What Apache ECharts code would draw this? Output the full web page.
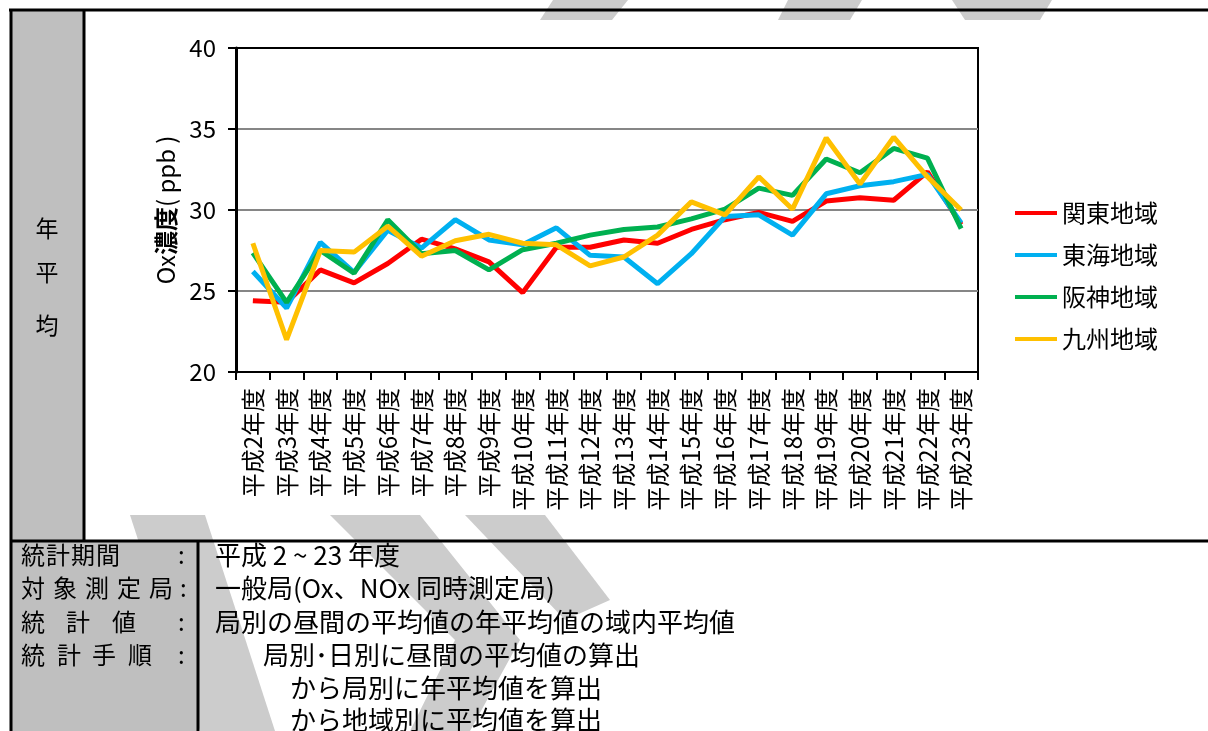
<!DOCTYPE html>
<html>
    <head>
        <meta charset="utf-8">
        <title>Ox濃度 年平均</title>
        <script src="https://cdn.jsdelivr.net/npm/echarts@6/dist/echarts.min.js"></script>
        <style>
            html, body { margin: 0; padding: 0; background: #fff; }
            #chart1 { width: 1208px; height: 731px; }
        </style>
    </head>
    <body>
        <div id="chart1"></div>
    </body>

    <script type="text/javascript">
        // 年度（カテゴリ）
        var years = ['平成2年度', '平成3年度', '平成4年度', '平成5年度', '平成6年度', '平成7年度',
            '平成8年度', '平成9年度', '平成10年度', '平成11年度', '平成12年度', '平成13年度',
            '平成14年度', '平成15年度', '平成16年度', '平成17年度', '平成18年度', '平成19年度',
            '平成20年度', '平成21年度', '平成22年度', '平成23年度'];

        // 地域別 Ox濃度 (ppb)
        var kanto   = [24.4, 24.3, 26.3, 25.5, 26.7, 28.2, 27.6, 26.8, 24.9, 27.7, 27.7, 28.15,
                       27.95, 28.8, 29.4, 29.85, 29.3, 30.55, 30.75, 30.6, 32.35, 29.1];
        var tokai   = [26.2, 23.95, 28.0, 26.15, 28.75, 27.65, 29.4, 28.15, 27.85, 28.9, 27.2, 27.1,
                       25.45, 27.3, 29.6, 29.7, 28.45, 31.0, 31.5, 31.75, 32.2, 29.2];
        var hanshin = [27.35, 24.3, 27.5, 26.1, 29.4, 27.3, 27.5, 26.3, 27.55, 27.95, 28.45, 28.8,
                       28.95, 29.45, 30.05, 31.35, 30.9, 33.15, 32.3, 33.8, 33.2, 28.85];
        var kyushu  = [27.95, 22.0, 27.5, 27.4, 29.0, 27.15, 28.1, 28.5, 27.95, 27.85, 26.55, 27.1,
                       28.45, 30.5, 29.7, 32.05, 30.05, 34.45, 31.6, 34.5, 32.05, 30.0];

        var regions = ['関東地域', '東海地域', '阪神地域', '九州地域'];
        var colors = ['#ff0000', '#00b0f0', '#00b050', '#ffc000'];

        // 下段の説明
        var infoLabels = [
            [['統', 21], ['計', 46], ['期', 71], ['間', 96], [':', 178]],
            [['対', 21], ['象', 53], ['測', 85], ['定', 117], ['局', 149], [':', 180]],
            [['統', 21], ['計', 66], ['値', 112], [':', 178]],
            [['統', 21], ['計', 57], ['手', 92], ['順', 128], [':', 178]]
        ];
        var infoTexts = [
            ['平成 2 ~ 23 年度', 215],
            ['一般局(Ox、NOx 同時測定局)', 215],
            ['局別の昼間の平均値の年平均値の域内平均値', 215],
            ['局別･日別に昼間の平均値の算出', 263],
            ['から局別に年平均値を算出', 290],
            ['から地域別に平均値を算出', 290]
        ];
        var rowY = [555, 588, 622, 655, 688, 720];

        var FONT = '"Liberation Sans Narrow", "Noto Sans CJK JP", sans-serif';
        var JP = '"Noto Sans CJK JP", sans-serif';

        var myChart1 = echarts.init(document.getElementById('chart1'));

        var g = [];
        // 透かしの帯
        var stripes = [
            [[553, 0], [628, 0], [612, 20], [540, 20]],
            [[788, 0], [862, 0], [850, 20], [778, 20]],
            [[952, 0], [1052, 0], [1040, 20], [965, 20]],
            [[130, 515], [205, 515], [275, 731], [200, 731]],
            [[330, 515], [420, 515], [520, 640], [470, 731], [410, 731], [455, 640]],
            [[465, 515], [545, 515], [610, 600], [565, 620]]
        ];
        stripes.forEach(function (p) {
            g.push({ type: 'polygon', z: -10, shape: { points: p }, style: { fill: '#cccccc' } });
        });
        // 表の枠
        g.push({ type: 'rect', z: -5, shape: { x: 10, y: 9, width: 74, height: 532 }, style: { fill: '#bfbfbf' } });
        g.push({ type: 'rect', z: -5, shape: { x: 10, y: 541, width: 188, height: 190 }, style: { fill: '#bfbfbf' } });
        var lines = [
            [9, 10, 1208, 10], [11, 9, 11, 731], [84, 9, 84, 541],
            [10, 541, 1208, 541], [198, 541, 198, 731]
        ];
        lines.forEach(function (l) {
            g.push({ type: 'line', z: 5, shape: { x1: l[0], y1: l[1], x2: l[2], y2: l[3] },
                style: { stroke: '#000', lineWidth: 3 } });
        });
        // 年平均
        [['年', 228], ['平', 272], ['均', 325]].forEach(function (c) {
            g.push({ type: 'text', x: 47, y: c[1], style: { text: c[0], fontSize: 23, fontFamily: JP,
                fill: '#000', align: 'center', verticalAlign: 'middle' } });
        });
        infoLabels.forEach(function (row, i) {
            row.forEach(function (c) {
                g.push({ type: 'text', x: c[1], y: rowY[i], style: { text: c[0], fontSize: 24, fontFamily: JP,
                    fill: '#000', verticalAlign: 'middle' } });
            });
        });
        infoTexts.forEach(function (t, i) {
            g.push({ type: 'text', x: t[1], y: rowY[i], style: { text: t[0], fontSize: 26, fontFamily: JP,
                fill: '#000', verticalAlign: 'middle' } });
        });

        myChart1.setOption({
            animation: false,
            textStyle: { fontFamily: FONT },
            grid: { left: 236, top: 48, width: 742, height: 324, show: true,
                borderColor: '#000', borderWidth: 2, backgroundColor: 'transparent' },
            legend: {
                orient: 'vertical', left: 1010, top: 196, itemGap: 18,
                icon: 'rect', itemWidth: 42, itemHeight: 4,
                textStyle: { fontSize: 24, color: '#000', fontFamily: JP },
                data: regions
            },
            xAxis: {
                type: 'category', data: years, boundaryGap: true,
                axisLine: { lineStyle: { color: '#000', width: 2 } },
                axisTick: { show: true, length: 8, lineStyle: { color: '#000', width: 2 } },
                axisLabel: { interval: 0, rotate: 90, margin: 16, fontSize: 24, color: '#000', fontFamily: JP }
            },
            yAxis: {
                type: 'value', min: 20, max: 40, interval: 5,
                name: '{a|Ox}{b|濃度}{a|( ppb )}', nameLocation: 'middle', nameGap: 58,
                nameTextStyle: { rich: {
                    a: { fontSize: 24, color: '#000', fontFamily: FONT },
                    b: { fontSize: 24, color: '#000', fontFamily: JP, fontWeight: 'bold' }
                } },
                axisLine: { show: true, lineStyle: { color: '#000', width: 3 } },
                axisTick: { show: true, length: 8, lineStyle: { color: '#000', width: 2 } },
                axisLabel: { margin: 20, fontSize: 24, color: '#000' },
                splitLine: { lineStyle: { color: ['#000', '#868686', '#868686', '#868686', '#000'], width: 2 } }
            },
            graphic: g,
            series: [kanto, tokai, hanshin, kyushu].map(function (d, i) {
                return {
                    name: regions[i], type: 'line', data: d, symbol: 'none',
                    color: colors[i], lineStyle: { width: 5, color: colors[i] }
                };
            })
        });
    </script>
</html>
